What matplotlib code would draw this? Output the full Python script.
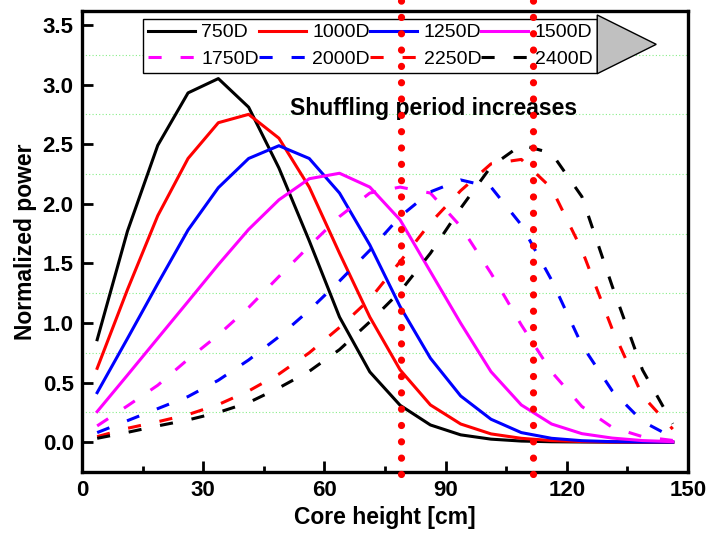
import numpy as np
import matplotlib
matplotlib.use('Agg')
import matplotlib.pyplot as plt
from matplotlib.patches import Polygon

plt.rcParams['font.family'] = ['Liberation Sans', 'DejaVu Sans']

# axial node centres [cm]
height = [3.75, 11.25, 18.75, 26.25, 33.75, 41.25, 48.75, 56.25, 63.75, 71.25,
          78.75, 86.25, 93.75, 101.25, 108.75, 116.25, 123.75, 131.25, 138.75, 146.25]

# normalized axial power for each shuffling period
p750 = [0.86, 1.77, 2.49, 2.93, 3.05, 2.81, 2.30, 1.69, 1.05, 0.59,
        0.31, 0.145, 0.062, 0.026, 0.010, 0.004, 0.002, 0.001, 0.0, 0.0]
p1000 = [0.62, 1.28, 1.90, 2.38, 2.68, 2.75, 2.55, 2.14, 1.585, 1.05,
         0.607, 0.313, 0.153, 0.07, 0.033, 0.014, 0.006, 0.002, 0.001, 0.0]
p1250 = [0.416, 0.87, 1.33, 1.78, 2.135, 2.38, 2.487, 2.38, 2.09, 1.655,
         1.138, 0.705, 0.388, 0.193, 0.081, 0.033, 0.013, 0.005, 0.002, 0.001]
p1500 = [0.257, 0.563, 0.872, 1.18, 1.49, 1.785, 2.033, 2.21, 2.256, 2.14,
         1.865, 1.431, 0.998, 0.592, 0.313, 0.153, 0.072, 0.035, 0.014, 0.005]
p1750 = [0.137, 0.305, 0.478, 0.696, 0.90, 1.13, 1.39, 1.645, 1.893, 2.09,
         2.14, 2.09, 1.81, 1.418, 0.984, 0.59, 0.30, 0.125, 0.047, 0.015]
p2000 = [0.081, 0.181, 0.282, 0.383, 0.52, 0.69, 0.885, 1.107, 1.352, 1.61,
         1.893, 2.10, 2.20, 2.14, 1.823, 1.36, 0.815, 0.432, 0.175, 0.04]
p2250 = [0.047, 0.117, 0.172, 0.232, 0.316, 0.43, 0.572, 0.75, 0.963, 1.20,
         1.515, 1.84, 2.11, 2.335, 2.372, 2.13, 1.613, 0.95, 0.39, 0.11]
p2400 = [0.033, 0.083, 0.137, 0.187, 0.25, 0.333, 0.456, 0.595, 0.777, 1.01,
         1.264, 1.585, 1.963, 2.312, 2.494, 2.424, 2.06, 1.31, 0.607, 0.155]

labels = ['750D', '1000D', '1250D', '1500D', '1750D', '2000D', '2250D', '2400D']
series = [p750, p1000, p1250, p1500, p1750, p2000, p2250, p2400]
colors = ['black', 'red', 'blue', 'magenta', 'magenta', 'blue', 'red', 'black']
dashed = [False, False, False, False, True, True, True, True]

# core boundaries marked with dotted lines
marks = [79.0, 111.7]

fig = plt.figure(figsize=(7.07, 5.34), dpi=100)
ax = fig.add_axes([0.116, 0.116, 0.857, 0.863])

handles = []
for y, lab, c, d in zip(series, labels, colors, dashed):
    if d:
        h, = ax.plot(height, y, color=c, lw=2.2, dashes=(4.3, 6.2), label=lab)
    else:
        h, = ax.plot(height, y, color=c, lw=2.2, label=lab)
    handles.append(h)

for xm in marks:
    ax.plot([xm, xm], [-0.27, 3.8], color='red', lw=5.2,
            linestyle=(0, (0.01, 2.25)), dash_capstyle='round',
            clip_on=False, zorder=6)

ax.set_xlim(0, 150)
ax.set_ylim(-0.25, 3.615)
ax.set_xticks([0, 30, 60, 90, 120, 150])
ax.set_xticks([15, 45, 75, 105, 135], minor=True)
ax.set_yticks([0.0, 0.5, 1.0, 1.5, 2.0, 2.5, 3.0, 3.5])
ax.set_yticklabels(['0.0', '0.5', '1.0', '1.5', '2.0', '2.5', '3.0', '3.5'])
ax.set_yticks(np.arange(0.25, 3.5, 0.5), minor=True)
ax.grid(True, which='minor', axis='y', color='#88ee88', lw=0.8, linestyle=(0, (1, 2)))
ax.tick_params(which='both', direction='in', width=2, labelsize=16, pad=6)
ax.tick_params(which='major', length=8)
ax.tick_params(axis='x', which='minor', length=4)
ax.tick_params(axis='y', which='minor', length=0)
for t in ax.get_xticklabels() + ax.get_yticklabels():
    t.set_fontweight('bold')
for s in ax.spines.values():
    s.set_linewidth(2.4)

ax.set_xlabel('Core height [cm]', fontsize=16.5, fontweight='bold', labelpad=3)
ax.set_ylabel('Normalized power', fontsize=16.5, fontweight='bold', labelpad=4)

ax.text(51.5, 2.8, 'Shuffling period increases', fontsize=16.5,
        fontweight='bold', ha='left', va='center')

# legend filled row by row
order = [0, 4, 1, 5, 2, 6, 3, 7]
leg = ax.legend([handles[i] for i in order], [labels[i] for i in order],
                ncol=4, loc='upper left',
                bbox_to_anchor=(143 / 707, 1 - 19 / 534),
                bbox_transform=fig.transFigure, borderaxespad=0,
                fontsize=14, frameon=True, fancybox=False, framealpha=1,
                edgecolor='black', handlelength=2.4, handletextpad=0.35,
                columnspacing=0.0, labelspacing=0.45, borderpad=0.25)
leg.get_frame().set_linewidth(1.0)

# arrow head at the end of the legend box
fig.canvas.draw()
bb = leg.get_window_extent()
W, H = fig.bbox.width, fig.bbox.height
tri = Polygon([(bb.x1 / W, (bb.y0 - 1) / H),
               (bb.x1 / W, (bb.y1 + 4) / H),
               ((bb.x1 + 59) / W, (bb.y0 + bb.y1 + 3) / 2 / H)],
              closed=True, transform=fig.transFigure,
              facecolor='#c0c0c0', edgecolor='black', lw=1.0, zorder=5)
fig.add_artist(tri)

fig.savefig('out.png', dpi=100)
